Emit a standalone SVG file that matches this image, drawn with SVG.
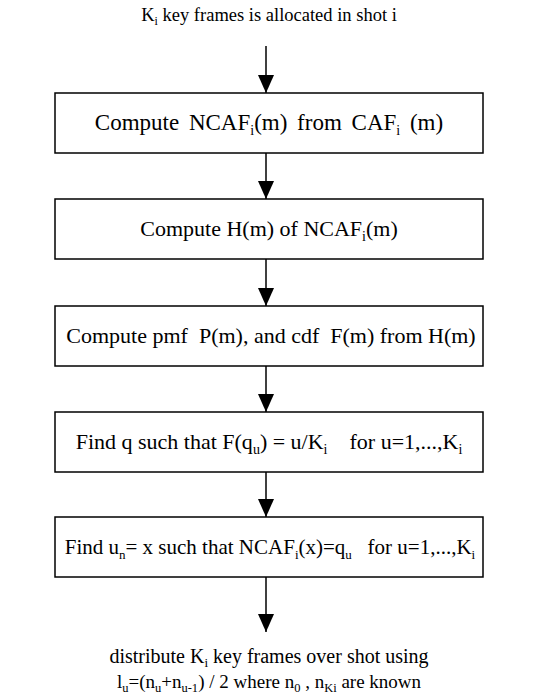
<svg xmlns="http://www.w3.org/2000/svg" width="539" height="698" viewBox="0 0 539 698">
  <style>
    text { font-family: "Liberation Serif", "Times New Roman", serif; font-size: 22px; fill: #000; white-space: pre; }
    .sub { font-size: 14px; }
    .box { fill: #fff; stroke: #000; stroke-width: 1.5; }
    .edge { stroke: #000; stroke-width: 1.5; fill: none; marker-end: url(#arrow); }
  </style>
  <defs>
    <marker id="arrow" viewBox="0 0 18 16" refX="18" refY="8" markerWidth="18" markerHeight="16" markerUnits="userSpaceOnUse" orient="auto">
      <path d="M0,0 L18,8 L0,16 Z" fill="#000"/>
    </marker>
  </defs>
  <rect width="539" height="698" fill="#fff"/>

  <g id="connectors">
    <line class="edge" x1="266" y1="46" x2="266" y2="93"/>
    <line class="edge" x1="266" y1="153" x2="266" y2="199"/>
    <line class="edge" x1="266" y1="259" x2="266" y2="306"/>
    <line class="edge" x1="266" y1="366" x2="266" y2="412"/>
    <line class="edge" x1="266" y1="472" x2="266" y2="517"/>
    <line class="edge" x1="266" y1="577" x2="266" y2="632"/>
  </g>

  <g id="start">
    <text x="269" y="21" text-anchor="middle" style="font-size:18.5px">K<tspan style="font-size:12px" dy="4">i</tspan><tspan dy="-4"> key frames is allocated in shot i</tspan></text>
  </g>

  <g id="step1">
    <rect class="box" x="55" y="93" width="428" height="60"/>
    <text x="269" y="130" text-anchor="middle" style="font-size:23px; word-spacing:4px">Compute NCAF<tspan class="sub" dy="5">i</tspan><tspan dy="-5">(m) from CAF</tspan><tspan class="sub" dy="5">i</tspan><tspan dy="-5"> (m)</tspan></text>
  </g>

  <g id="step2">
    <rect class="box" x="55" y="199" width="428" height="60"/>
    <text x="269" y="236" text-anchor="middle">Compute H(m) of NCAF<tspan class="sub" dy="5">i</tspan><tspan dy="-5">(m)</tspan></text>
  </g>

  <g id="step3">
    <rect class="box" x="55" y="306" width="428" height="60"/>
    <text x="271" y="343" text-anchor="middle">Compute pmf  P(m), and cdf  F(m) from H(m)</text>
  </g>

  <g id="step4">
    <rect class="box" x="55" y="412" width="428" height="60"/>
    <text x="269" y="449" text-anchor="middle">Find q such that F(q<tspan class="sub" dy="5">u</tspan><tspan dy="-5">) = u/K</tspan><tspan class="sub" dy="5">i</tspan><tspan dy="-5">    for u=1,...,K</tspan><tspan class="sub" dy="5">i</tspan></text>
  </g>

  <g id="step5">
    <rect class="box" x="55" y="517" width="428" height="60"/>
    <text x="270" y="554" text-anchor="middle" style="font-size:21px">Find u<tspan class="sub" style="font-size:13px" dy="5">n</tspan><tspan dy="-5">= x such that NCAF</tspan><tspan class="sub" style="font-size:13px" dy="5">i</tspan><tspan dy="-5">(x)=q</tspan><tspan class="sub" style="font-size:13px" dy="5">u</tspan><tspan dy="-5">   for u=1,...,K</tspan><tspan class="sub" style="font-size:13px" dy="5">i</tspan></text>
  </g>

  <g id="result">
    <text x="269" y="663" text-anchor="middle" style="font-size:20px">distribute K<tspan style="font-size:13px" dy="4">i</tspan><tspan dy="-4"> key frames over shot using</tspan></text>
    <text x="269" y="688" text-anchor="middle" style="font-size:19px">l<tspan style="font-size:12.5px" dy="4">u</tspan><tspan dy="-4">=(n</tspan><tspan style="font-size:12.5px" dy="4">u</tspan><tspan dy="-4">+n</tspan><tspan style="font-size:12.5px" dy="4">u-1</tspan><tspan dy="-4">) / 2 where n</tspan><tspan style="font-size:12.5px" dy="4">0</tspan><tspan dy="-4"> , n</tspan><tspan style="font-size:12.5px" dy="4">Ki</tspan><tspan dy="-4"> are known</tspan></text>
  </g>
</svg>
